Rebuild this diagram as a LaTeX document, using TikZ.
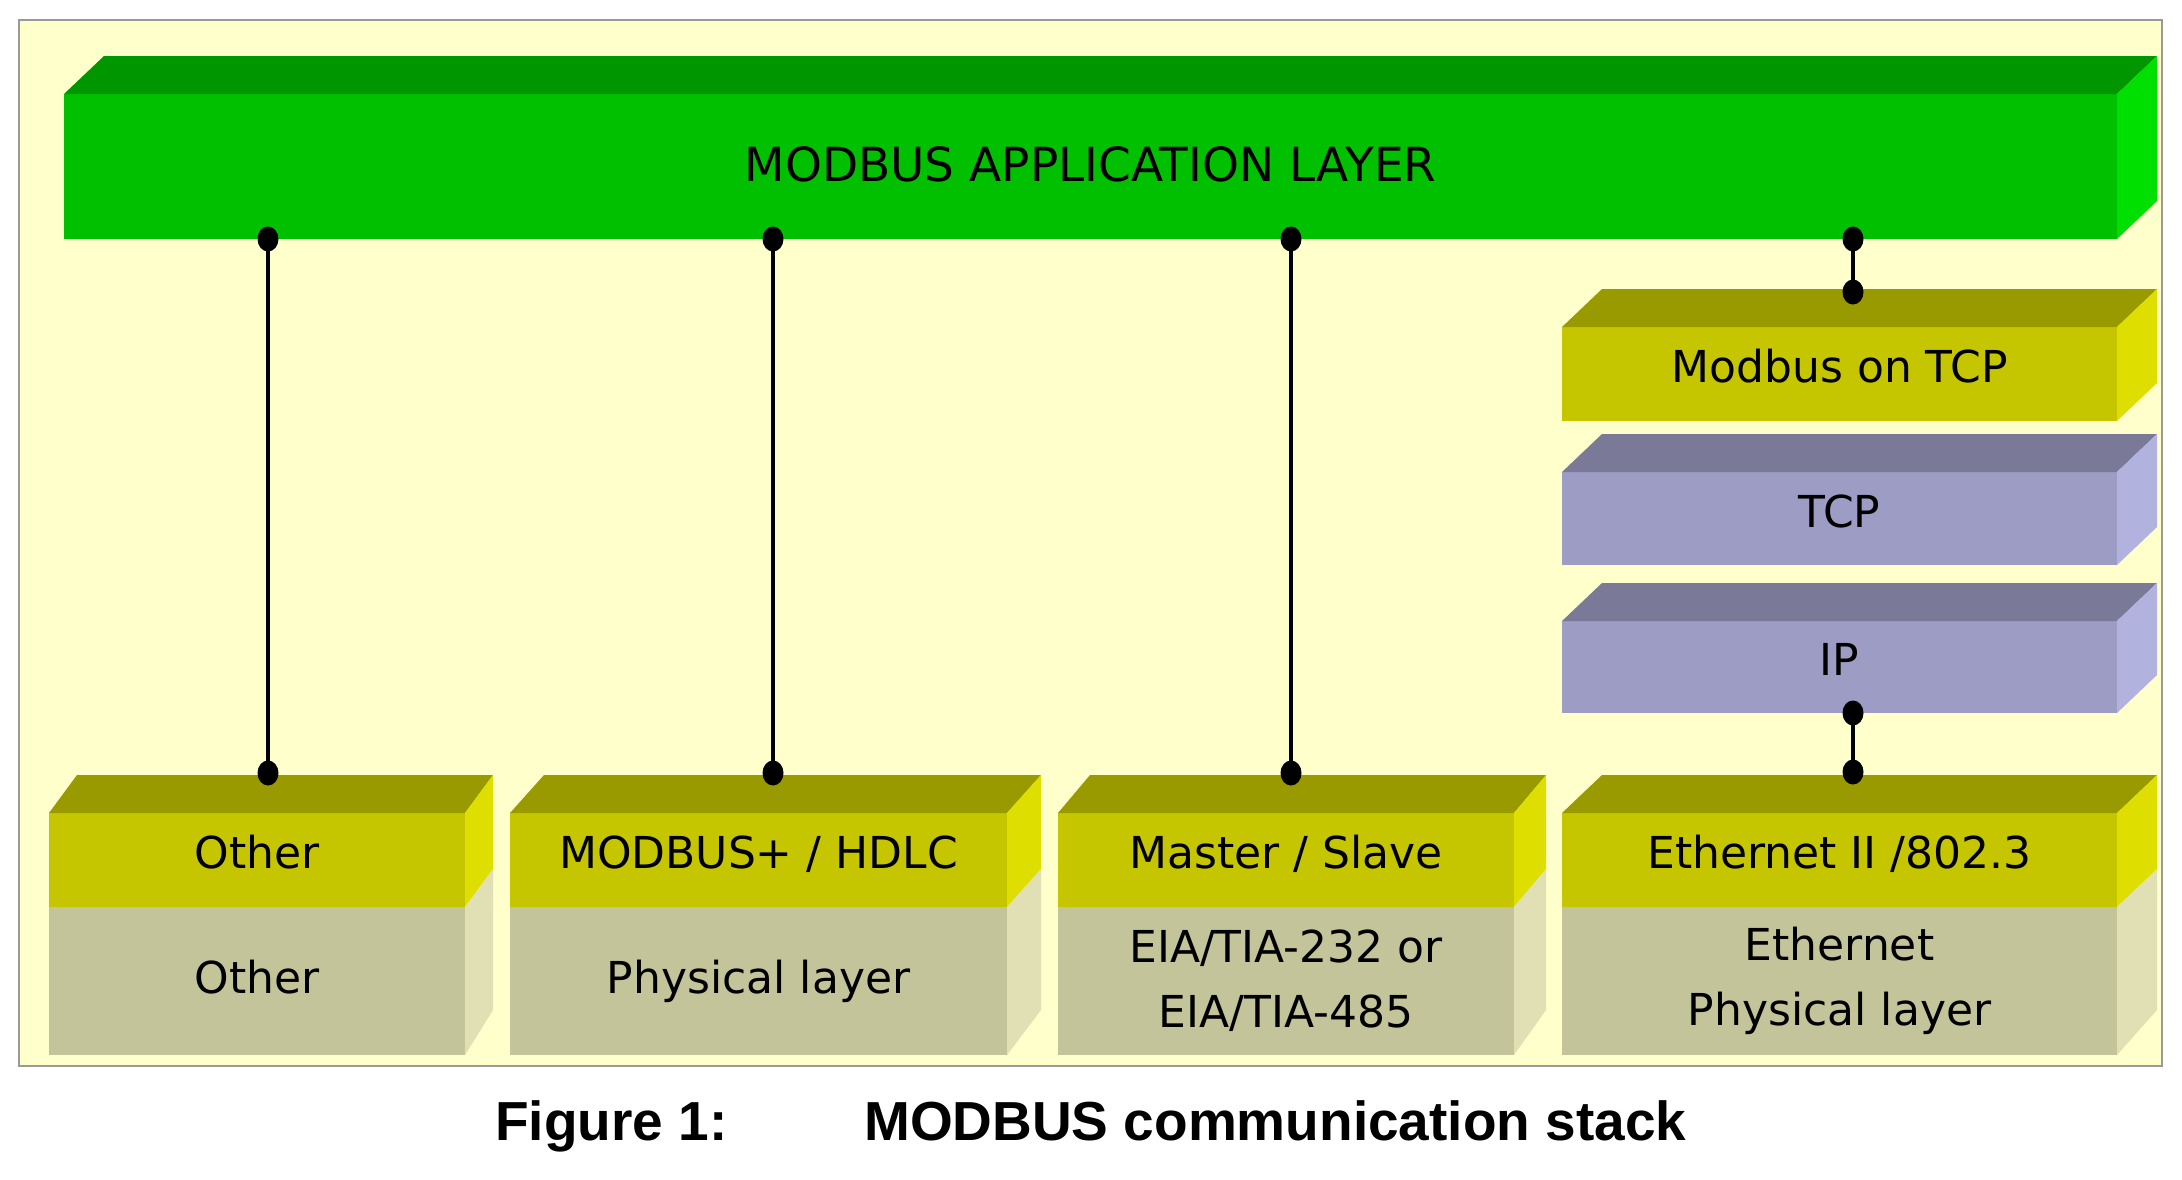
\documentclass[tikz,border=0pt]{standalone}
\usepackage{fontspec}
\setmainfont{DejaVu Sans}
\newfontfamily\capfont{Liberation Sans}
\definecolor{bg}{HTML}{FFFFCC}
\definecolor{frameg}{HTML}{999999}
\definecolor{gF}{HTML}{00C000}
\definecolor{gT}{HTML}{009600}
\definecolor{gR}{HTML}{00E000}
\definecolor{yF}{HTML}{C6C600}
\definecolor{yT}{HTML}{999900}
\definecolor{yR}{HTML}{DEDE00}
\definecolor{bF}{HTML}{C4C49A}
\definecolor{bR}{HTML}{E0E0B4}
\definecolor{pF}{HTML}{9C9CC4}
\definecolor{pT}{HTML}{7A7A98}
\definecolor{pR}{HTML}{B2B2DE}
\newcommand\slabtop[4]{%
  \fill[#3] (#1.north west) -- ([shift={(#2,-38)}]#1.north west) -- ([shift={(#2,-38)}]#1.north east) -- (#1.north east) -- cycle;
  \fill[#4] (#1.north east) -- ([shift={(#2,-38)}]#1.north east) -- ([shift={(#2,-38)}]#1.south east) -- (#1.south east) -- cycle;}
\newcommand\slabbase[3]{%
  \fill[#3] (#1.north east) -- ([shift={(#2,-38)}]#1.north east) -- ([shift={(#2,-45)}]#1.south east) -- (#1.south east) -- cycle;}
\begin{document}
\begin{tikzpicture}[x=1pt,y=-1pt,
  face/.style={inner sep=0pt, outer sep=0pt, anchor=north west, align=center, text=black,
    font=\fontsize{44}{65}\selectfont},
  upper/.style={face, text height=28pt, text depth=11pt},
  lower/.style={face, text height=32pt, text depth=7pt},
  conn/.style={line width=4pt, black},
  dot/.style={fill=black}]
\useasboundingbox (0,0) rectangle (2182,1179);
\fill[white] (0,0) rectangle (2182,1179);
\draw[frameg, line width=2.5pt, fill=bg] (19,20) rectangle (2162,1066);

% application layer
\node[face, fill=gF, minimum width=2053pt, minimum height=145pt, font=\fontsize{47}{56}\selectfont, text height=36pt, text depth=6pt] (app) at (64,94) {MODBUS APPLICATION LAYER};
\slabtop{app}{40}{gT}{gR}

% TCP/IP stack
\node[upper, fill=yF, minimum width=555pt, minimum height=94pt] (mtcp) at (1562,327) {Modbus on TCP};
\slabtop{mtcp}{40}{yT}{yR}
\node[upper, fill=pF, minimum width=555pt, minimum height=93pt] (tcp) at (1562,472) {TCP};
\slabtop{tcp}{40}{pT}{pR}
\node[upper, fill=pF, minimum width=555pt, minimum height=92pt] (ip) at (1562,621) {IP};
\slabtop{ip}{40}{pT}{pR}

% bottom stacks
\node[upper, fill=yF, minimum width=416pt, minimum height=94pt] (o1) at (49,813) {Other};
\node[lower, fill=bF, minimum width=416pt, minimum height=148pt] (o2) at (49,907) {Other};
\slabtop{o1}{28}{yT}{yR}
\slabbase{o2}{28}{bR}

\node[upper, fill=yF, minimum width=497pt, minimum height=94pt] (m1) at (510,813) {MODBUS+ / HDLC};
\node[lower, fill=bF, minimum width=497pt, minimum height=148pt] (m2) at (510,907) {Physical layer};
\slabtop{m1}{34}{yT}{yR}
\slabbase{m2}{34}{bR}

\node[upper, fill=yF, minimum width=456pt, minimum height=94pt] (s1) at (1058,813) {Master / Slave};
\node[face, fill=bF, minimum width=456pt, minimum height=148pt] (s2) at (1058,907) {EIA/TIA-232 or\\EIA/TIA-485};
\slabtop{s1}{32}{yT}{yR}
\slabbase{s2}{32}{bR}

\node[upper, fill=yF, minimum width=555pt, minimum height=94pt] (e1) at (1562,813) {Ethernet II /802.3};
\node[face, fill=bF, minimum width=555pt, minimum height=148pt] (e2) at (1562,907) {Ethernet\\Physical layer};
\slabtop{e1}{40}{yT}{yR}
\slabbase{e2}{40}{bR}

% connector ends
\coordinate (a1) at (268,239); \coordinate (b1) at (268,773);
\coordinate (a2) at (773,239); \coordinate (b2) at (773,773);
\coordinate (a3) at (1291,239); \coordinate (b3) at (1291,773);
\coordinate (a4) at (1853,239); \coordinate (b4) at (1853,292);
\coordinate (a5) at (1853,713); \coordinate (b5) at (1853,772);
\foreach \i in {1,...,5}{
  \draw[conn] (a\i) -- (b\i);
  \fill[dot] (a\i) ellipse (10.5pt and 12.5pt);
  \fill[dot] (b\i) ellipse (10.5pt and 12.5pt);
}

% caption
\node[anchor=base west, inner sep=0pt, font=\capfont\bfseries\fontsize{55}{60}\selectfont] (cap1) at (495,1140) {Figure 1:};
\node[anchor=base west, inner sep=0pt, font=\capfont\bfseries\fontsize{55}{60}\selectfont] (cap2) at (864,1140) {MODBUS communication stack};
\end{tikzpicture}
\end{document}
